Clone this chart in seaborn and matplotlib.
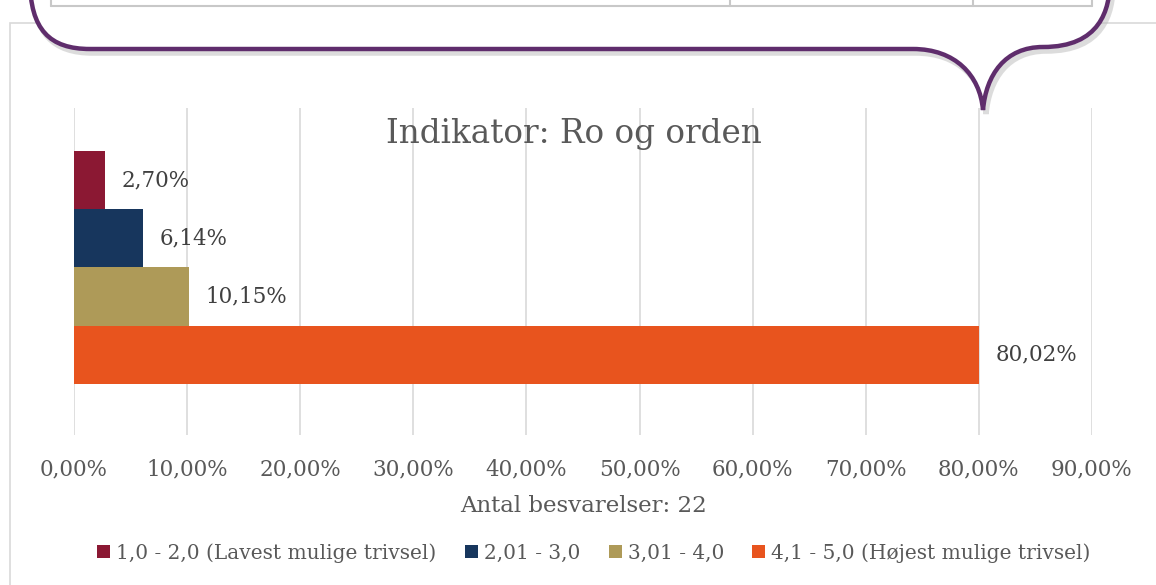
import pandas as pd
import matplotlib.pyplot as plt
import seaborn as sns
from matplotlib.path import Path
from matplotlib.patches import PathPatch, Rectangle
from matplotlib.lines import Line2D

categories = ['Ro og orden']
bands = ['1,0 - 2,0 (Lavest mulige trivsel)', '2,01 - 3,0', '3,01 - 4,0', '4,1 - 5,0 (Højest mulige trivsel)']
values = [2.70, 6.14, 10.15, 80.02]
colors = ['#8B1833', '#17365D', '#AE9A58', '#E8541E']
xticks = [0, 10, 20, 30, 40, 50, 60, 70, 80, 90]
title = 'Indikator: Ro og orden'
xlabel = 'Antal besvarelser: 22'

W, H = 1156, 585
sns.set_theme(style='white')
plt.rcParams['font.family'] = ['DejaVu Serif', 'DejaVu Sans']

df = pd.DataFrame({'Indikator': categories * len(bands), 'Interval': bands, 'Andel': values})

fig = plt.figure(figsize=(W / 100, H / 100), dpi=100)


def fx(px):
    return px / W


def fy(py):
    return 1 - py / H


ax = fig.add_axes([fx(74), fy(435), fx(1092) - fx(74), fy(108) - fy(435)])
sns.barplot(data=df, y='Indikator', x='Andel', hue='Interval', hue_order=bands,
            palette=colors, width=0.7125, saturation=1, orient='h', linewidth=0, ax=ax)

ax.set_xlim(0, 90)
ax.set_ylim(0.5125, -0.4875)
ax.set_xticks(xticks)
ax.set_xticklabels([f'{t:.2f}%'.replace('.', ',') for t in xticks], fontsize=15.5, color='#595959')
ax.tick_params(axis='x', length=0, pad=17)
ax.set_yticks([])
ax.set_ylabel('')
ax.set_xlabel(xlabel, fontsize=16.5, color='#595959', labelpad=10)
ax.grid(axis='x', color='#D9D9D9', linewidth=1.2)
ax.set_axisbelow(True)
for s in ax.spines.values():
    s.set_visible(False)

for cont, v in zip(ax.containers, values):
    ax.bar_label(cont, labels=[f'{v:.2f}%'.replace('.', ',')], padding=12, fontsize=15.5, color='#404040')

handles, labels = ax.get_legend_handles_labels()
ax.legend_.remove()
leg = fig.legend(handles, labels, loc='center', bbox_to_anchor=(fx(594), fy(553)), ncol=4, frameon=False,
                 fontsize=14.5, handlelength=0.65, handleheight=0.65, handletextpad=0.3, columnspacing=1.4)
for t in leg.get_texts():
    t.set_color('#595959')

fig.text(fx(574), fy(134), title, ha='center', va='center', fontsize=23.5, color='#595959')

# chart frame
fig.patches.append(Rectangle((fx(9.5), fy(700)), fx(1300), fy(23) - fy(700), transform=fig.transFigure,
                             fill=False, edgecolor='#D9D9D9', linewidth=1.2, zorder=5))

# speech bubble over the top
pts = [(30, -20), (30, 30), (50, 49), (90, 49), (913, 49),
       (955, 49), (980, 75), (983, 110), (986, 75), (1005, 47), (1043, 47),
       (1100, 47), (1110, 10), (1110, -20), (30, -20)]
codes = [Path.MOVETO, Path.CURVE4, Path.CURVE4, Path.CURVE4, Path.LINETO,
         Path.CURVE4, Path.CURVE4, Path.CURVE4, Path.CURVE4, Path.CURVE4, Path.CURVE4,
         Path.CURVE4, Path.CURVE4, Path.CURVE4, Path.LINETO]
shadow = Path([(fx(x + 3), fy(y + 4)) for x, y in pts[:-1]], codes[:-1])
fig.patches.append(PathPatch(shadow, transform=fig.transFigure, fill=False, edgecolor='#BBBBBB',
                             linewidth=4, alpha=0.5, zorder=9))
fill = Path([(fx(x), fy(y)) for x, y in pts], codes)
fig.patches.append(PathPatch(fill, transform=fig.transFigure, facecolor='white', edgecolor='none', zorder=10))
for xs, ys in [([51, 1092], [6, 6]), ([51, 51], [-5, 6]), ([730, 730], [-5, 6]),
               ([973, 973], [-5, 6]), ([1092, 1092], [-5, 6])]:
    fig.lines.append(Line2D([fx(x) for x in xs], [fy(y) for y in ys], transform=fig.transFigure,
                            color='#C8C8C8', linewidth=1.5, zorder=11))
outline = Path([(fx(x), fy(y)) for x, y in pts[:-1]], codes[:-1])
fig.patches.append(PathPatch(outline, transform=fig.transFigure, fill=False, edgecolor='#5F2D6C',
                             linewidth=3.2, zorder=12))

fig.savefig('out.png', dpi=100)
